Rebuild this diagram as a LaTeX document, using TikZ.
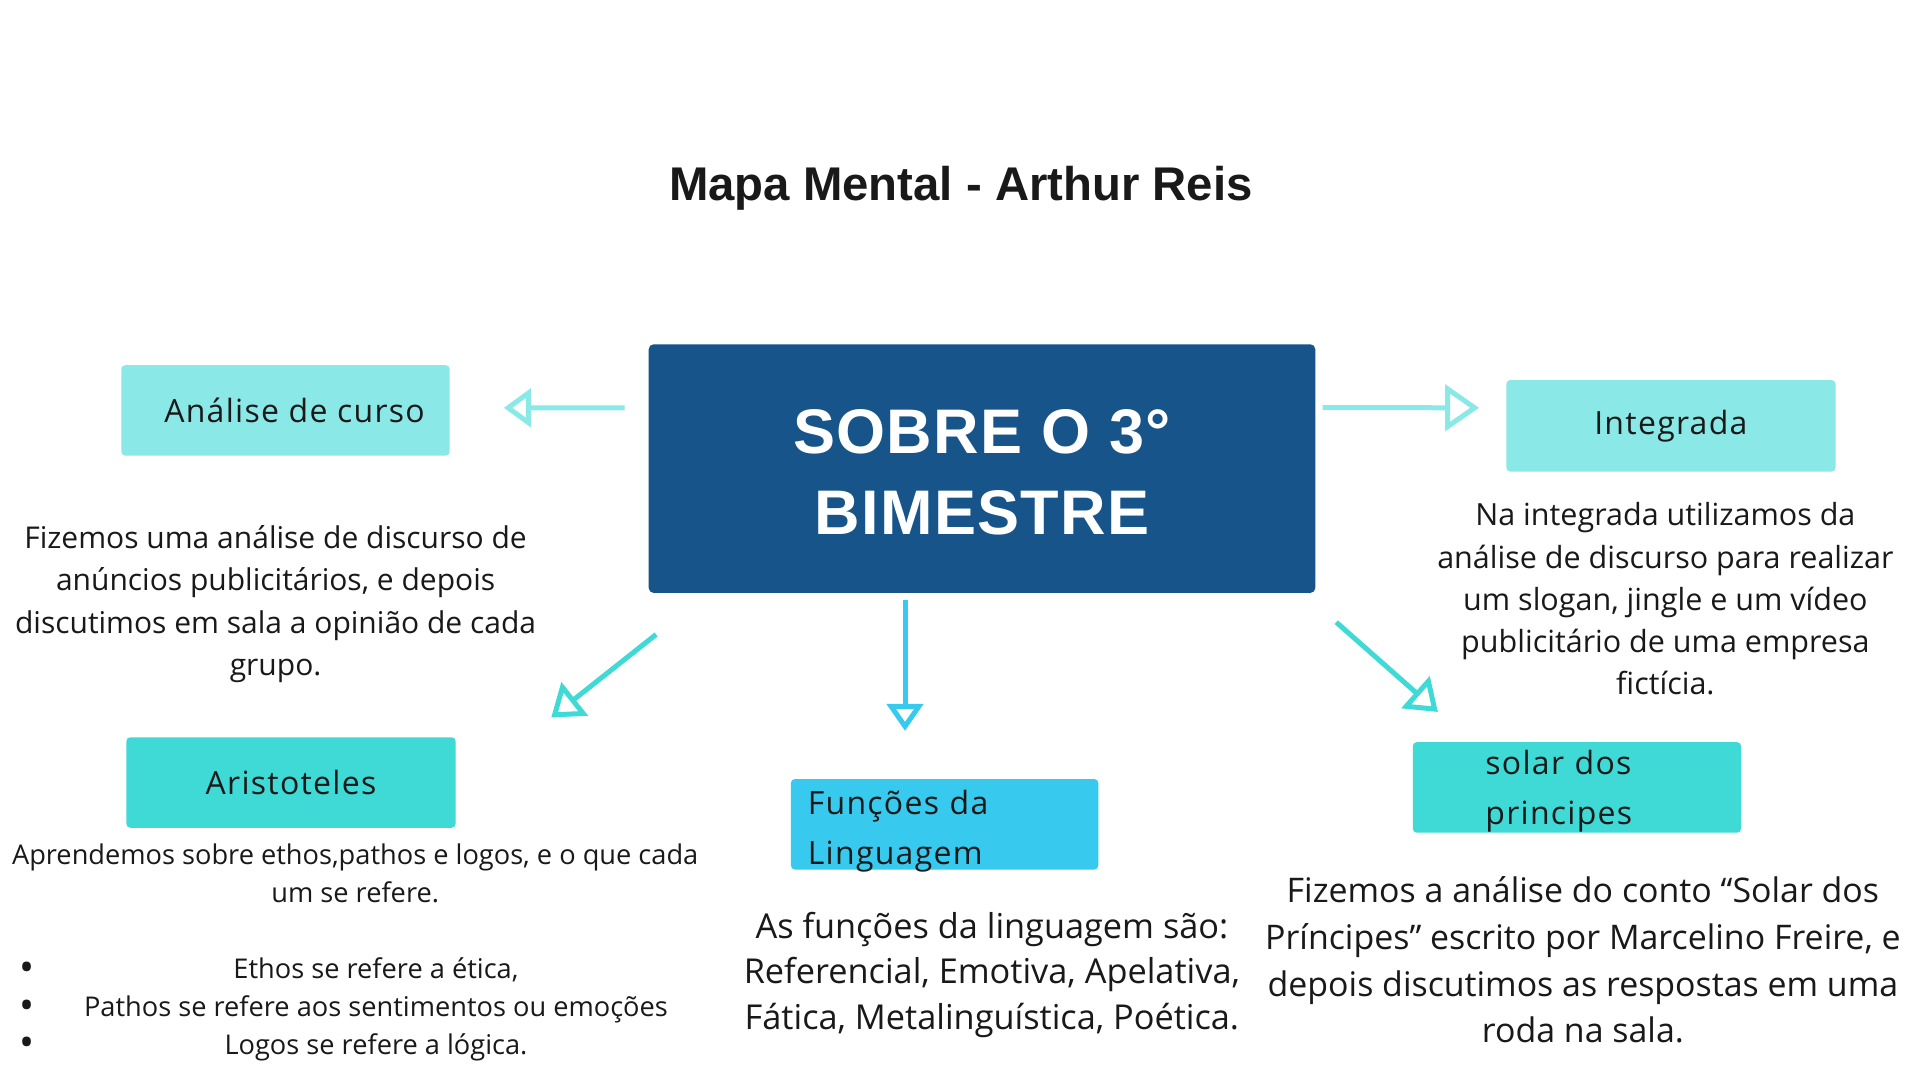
\documentclass[tikz,border=0pt]{standalone}
\usepackage{fontspec}
\setmainfont{Open Sans}
\newfontfamily\titlefont{Liberation Sans}
\newfontfamily\centerfont[LetterSpace=2]{Liberation Sans}
\newfontfamily\labelfont[LetterSpace=4]{Open Sans}
\usetikzlibrary{arrows.meta}
\definecolor{azulEscuro}{HTML}{175489}
\definecolor{cianoClaro}{HTML}{8AE9E6}
\definecolor{turquesa}{HTML}{3FD9D6}
\definecolor{azulCeu}{HTML}{38C9EF}
\begin{document}
\begin{tikzpicture}[x=1pt, y=-1pt,
  caixa/.style={rounded corners=4pt, inner sep=0pt, font=\labelfont\fontsize{32}{50}\selectfont, text=black!90},
  texto/.style={align=center, text=black!90, font=\fontsize{30}{42.3}\selectfont},
  seta/.style={line width=5pt, -{Triangle[open, length=30pt, width=42pt, fill=white]}}]
        \useasboundingbox[fill=white] (0,0) rectangle (1920,1080);
        \node[font=\titlefont\bfseries\fontsize{47.3}{56}\selectfont, text=black!90] (titulo) at (961,188) {Mapa Mental - Arthur Reis};
        \node[rounded corners=5pt, fill=azulEscuro, minimum width=666.6pt, minimum height=248.7pt, align=center, text=white, font=\centerfont\bfseries\fontsize{63}{81}\selectfont] (centro) at (982,468.6) {\rule{0pt}{51pt}SOBRE O 3°\\BIMESTRE};
        \node[caixa, fill=cianoClaro, minimum width=328.3pt, minimum height=90.5pt] (analise) at (285.5,410.4) {\hspace{18pt}Análise de curso};
        \node[caixa, fill=cianoClaro, minimum width=329.3pt, minimum height=91.5pt] (integrada) at (1670.9,425.8) {Integrada};
        \node[caixa, fill=turquesa, minimum width=329.3pt, minimum height=90.5pt] (aristoteles) at (291,782.5) {Aristoteles};
        \node[caixa, fill=azulCeu, minimum width=307.4pt, minimum height=90.5pt, text width=273.6pt, align=left] (funcoes) at (944.6,824.3) {\rule{0pt}{30pt}Funções da\\\raisebox{0pt}[\height][0pt]{Linguagem}};
        \node[caixa, fill=turquesa, minimum width=328.3pt, minimum height=90.5pt, text width=183pt, align=left] (solar) at (1576.9,787.4) {solar dos\\\raisebox{0pt}[\height][0pt]{principes}};
        \node[texto] (textoAnalise) at (275.6,604) {Fizemos uma análise de discurso de\\anúncios publicitários, e depois\\discutimos em sala a opinião de cada\\grupo.};
        \node[texto, font=\fontsize{30.5}{42.2}\selectfont] (textoIntegrada) at (1665.4,598.9) {Na integrada utilizamos da\\análise de discurso para realizar\\um slogan, jingle e um vídeo\\publicitário de uma empresa\\fictícia.};
        \node[texto, font=\fontsize{27.2}{37.8}\selectfont] (textoAristoteles) at (355.2,873.5) {Aprendemos sobre ethos,pathos e logos, e o que cada\\um se refere.};
        \node[texto, font=\fontsize{27.2}{37.8}\selectfont] (textoEthos) at (376,1009.3) {Ethos se refere a ética,\\Pathos se refere aos sentimentos ou emoções\\Logos se refere a lógica.};
        \node[texto, font=\fontsize{40}{37.8}\selectfont] (marcadores) at (26.9,1009.3) {•\\•\\•};
        \node[texto, font=\fontsize{34.3}{45.5}\selectfont] (textoFuncoes) at (991.9,974.5) {As funções da linguagem são:\\Referencial, Emotiva, Apelativa,\\Fática, Metalinguística, Poética.};
        \node[texto, font=\fontsize{33.9}{46.6}\selectfont] (textoSolar) at (1582.9,960) {Fizemos a análise do conto “Solar dos\\Príncipes” escrito por Marcelino Freire, e\\depois discutimos as respostas em uma\\roda na sala.};
        \draw[seta, cianoClaro, -{Triangle[open, length=27pt, width=38pt, fill=white]}] ([xshift=-24pt,yshift=60.8pt]centro.west) -- ([xshift=54pt,yshift=2.6pt]analise.east);
        \draw[seta, cianoClaro, -{Triangle[open, length=34pt, width=46pt, fill=white]}] ([xshift=7pt,yshift=61pt]centro.east) -- ([xshift=-27pt,yshift=18pt]integrada.west);
        \draw[seta, turquesa] ([xshift=7.6pt,yshift=-41.3pt]centro.south west) -- ([xshift=95.4pt,yshift=19.6pt]aristoteles.north east);
        \draw[seta, azulCeu, -{Triangle[open, length=27pt, width=36pt, fill=white]}] ([xshift=-77pt,yshift=-7pt]centro.south) -- ([xshift=-39.6pt,yshift=48pt]funcoes.north);
        \draw[seta, turquesa] ([xshift=20.7pt,yshift=-29pt]centro.south east) -- ([xshift=-139pt,yshift=30pt]solar.north);
\end{tikzpicture}
\end{document}
